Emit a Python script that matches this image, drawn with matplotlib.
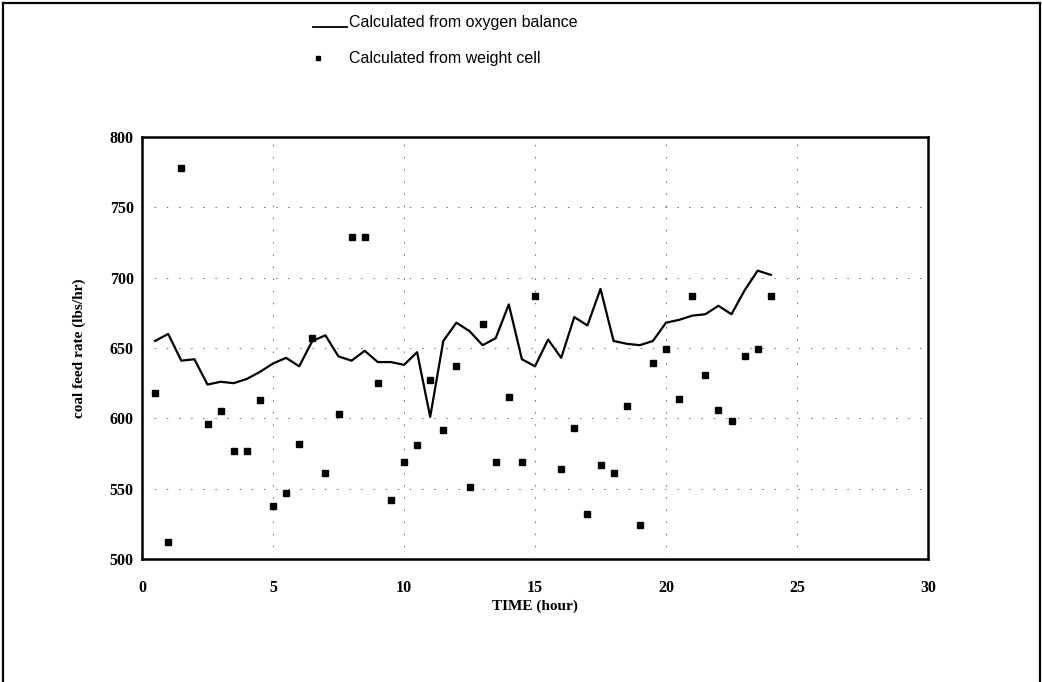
import numpy as np
import matplotlib
matplotlib.use("Agg")
import matplotlib.pyplot as plt
from matplotlib.lines import Line2D

# coal feed rate over the run, two estimates
time_h = np.arange(0.5, 24.01, 0.5)
oxygen_balance = [655, 660, 641, 642, 624, 626, 625, 628, 633, 639,
                  643, 637, 655, 659, 644, 641, 648, 640, 640, 638,
                  647, 601, 655, 668, 662, 652, 657, 681, 642, 637,
                  656, 643, 672, 666, 692, 655, 653, 652, 655, 668,
                  670, 673, 674, 680, 674, 691, 705, 702]

cell_time = [0.5, 1.0, 1.5, 2.5, 3.0, 3.5, 4.0, 4.5, 5.0, 5.5,
             6.0, 6.5, 7.0, 7.5, 8.0, 8.5, 9.0, 9.5, 10.0, 10.5,
             11.0, 11.5, 12.0, 12.5, 13.0, 13.5, 14.0, 14.5, 15.0, 16.0,
             16.5, 17.0, 17.5, 18.0, 18.5, 19.0, 19.5, 20.0, 20.5, 21.0,
             21.5, 22.0, 22.5, 23.0, 23.5, 24.0]
weight_cell = [618, 512, 778, 596, 605, 577, 577, 613, 538, 547,
               582, 657, 561, 603, 729, 729, 625, 542, 569, 581,
               627, 592, 637, 551, 667, 569, 615, 569, 687, 564,
               593, 532, 567, 561, 609, 524, 639, 649, 614, 687,
               631, 606, 598, 644, 649, 687]

x_ticks = [0, 5, 10, 15, 20, 25, 30]
y_ticks = [500, 550, 600, 650, 700, 750, 800]

W, H = 1042, 682
fig = plt.figure(figsize=(W / 100, H / 100), dpi=100)
ax = fig.add_axes([142 / W, 1 - 559 / H, (928 - 142) / W, (559 - 137) / H])

serif = ["Liberation Serif", "DejaVu Serif"]
narrow = ["Liberation Sans Narrow", "Liberation Sans", "DejaVu Sans"]

ax.plot(time_h, oxygen_balance, color="black", lw=1.6, zorder=3)
ax.plot(cell_time, weight_cell, ls="none", marker="s", ms=5,
        color="black", zorder=4)

ax.set_xlim(0, 30)
ax.set_ylim(500, 800)
ax.set_xticks(x_ticks)
ax.set_yticks(y_ticks)
ax.tick_params(axis="x", length=0, pad=15)
ax.tick_params(axis="y", length=0, pad=6)
for lab in ax.get_xticklabels() + ax.get_yticklabels():
    lab.set_fontfamily(serif)
    lab.set_fontweight("bold")
    lab.set_fontsize(11.5)

# faint broken gridlines
ax.grid(True, color="0.4", lw=0.7, ls=(0, (1.5, 11)), zorder=1)
for sp in ax.spines.values():
    sp.set_linewidth(1.8)

ax.set_xlabel("TIME (hour)", fontfamily=serif, fontweight="bold",
              fontsize=11, labelpad=3)
ax.set_ylabel("coal feed rate (lbs/hr)", fontfamily=serif,
              fontweight="bold", fontsize=11, labelpad=17)

# legend block above the plot
fig.add_artist(Line2D([313 / W, 347 / W], [1 - 27 / H, 1 - 27 / H],
                      color="black", lw=1.3, transform=fig.transFigure))
fig.text(349 / W, 1 - 22 / H, "Calculated from oxygen balance",
         fontfamily=narrow, fontsize=11.5, va="center")
fig.add_artist(Line2D([318 / W], [1 - 58 / H], ls="none", marker="s",
                      ms=3.5, color="black", transform=fig.transFigure))
fig.text(349 / W, 1 - 58 / H, "Calculated from weight cell",
         fontfamily=narrow, fontsize=11.5, va="center")

# outer frame
for xs, ys in [([3, 3], [0, 679]), ([3, 1040], [679, 679]),
               ([1040, 1040], [0, 679])]:
    fig.add_artist(Line2D([v / W for v in xs], [v / H for v in ys],
                          color="black", lw=1.6, transform=fig.transFigure))

fig.savefig("out.png", dpi=100)
